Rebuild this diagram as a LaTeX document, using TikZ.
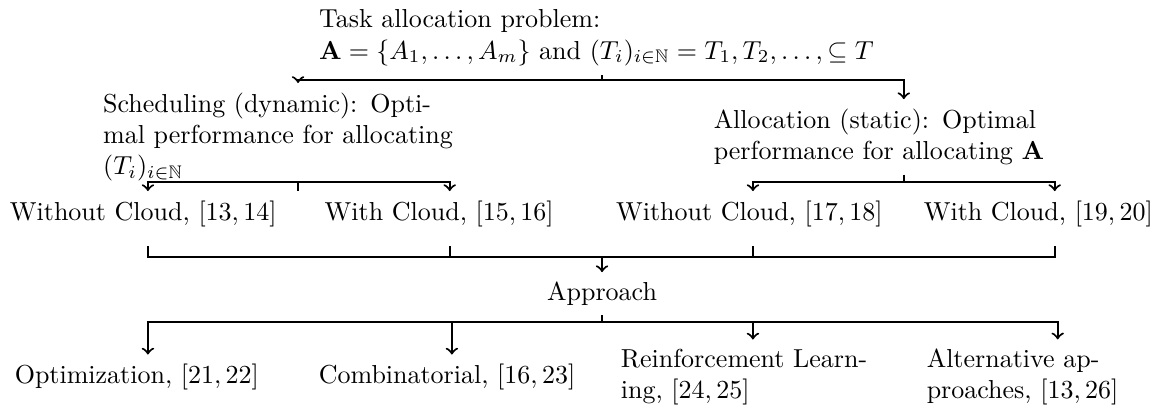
\documentclass[tikz,border=0pt]{standalone}
\usepackage{amsmath}
\usepackage{amssymb}
\usetikzlibrary{arrows}
\tikzset{txt/.style = {align=left, inner sep=3.33pt}}

\begin{document}
\begin{tikzpicture}[>=to, thick]
    \useasboundingbox (0, 0) rectangle (15.67, -5.60);

    \node [txt, text width=7.65cm] (task) at (8.14, -0.51) {Task allocation problem:\\ $\mathbf{A} = \{A_1, \ldots, A_m\}$ and $(T_i)_{i \in \mathbb{N}} = T_1, T_2, \ldots, \subseteq T$};

    \node [txt, text width=5.27cm] (sched) at (4.03, -1.85) {Scheduling (dynamic): Opti-\\mal performance for allocating\\$(T_i)_{i \in \mathbb{N}}$};
    \node [txt, text width=5.14cm] (alloc) at (12.22, -1.85) {Allocation (static): Optimal\\performance for allocating $\mathbf{A}$};

    \node [txt, text width=3.73cm] (wo1) at (2.00, -2.89) {Without Cloud, $[13, 14]$};
    \node [txt, text width=3.38cm] (wc1) at (6.08, -2.89) {With Cloud, $[15, 16]$};
    \node [txt, text width=3.70cm] (wo2) at (10.18, -2.89) {Without Cloud, $[17, 18]$};
    \node [txt, text width=3.54cm] (wc2) at (14.26, -2.89) {With Cloud, $[19, 20]$};

    \node [txt] (appr) at (8.14, -3.97) {Approach};

    \node [txt, text width=3.60cm] (opt) at (2.00, -5.10) {Optimization, $[21, 22]$};
    \node [txt, text width=3.60cm] (comb) at (6.11, -5.10) {Combinatorial, $[16, 23]$};
    \node [txt, text width=3.57cm] (rl) at (10.18, -5.10) {Reinforcement Learn-\\ing, $[24, 25]$};
    \node [txt, text width=3.54cm] (alt) at (14.30, -5.10) {Alternative ap-\\proaches, $[13, 26]$};

    % forks
    \coordinate (f0) at (task.south |- 0, -1.08);
    \coordinate (f1) at (sched.south |- 0, -2.46);
    \coordinate (f2) at (alloc.south |- 0, -2.46);
    \coordinate (f3) at (appr.north |- 0, -3.47);
    \coordinate (f4) at (appr.south |- 0, -4.35);

    \draw (task.south) -- (f0);
    \foreach \n in {sched, alloc}
      \draw [->] (f0) -| (\n.north);

    \draw (sched.south) -- (f1);
    \foreach \n in {wo1, wc1}
      \draw [->] (f1) -| (\n.north);
    \draw (alloc.south) -- (f2);
    \foreach \n in {wo2, wc2}
      \draw [->] (f2) -| (\n.north);

    \foreach \n in {wo1, wc1, wo2, wc2}
      \draw [shorten <=0.13cm] (\n.south) |- (f3);
    \draw [->] (f3) -- (appr.north);

    \draw (appr.south) -- (f4);
    \foreach \n in {opt, comb, rl, alt}
      \draw [->] (f4) -| (\n.north);
\end{tikzpicture}
\end{document}
